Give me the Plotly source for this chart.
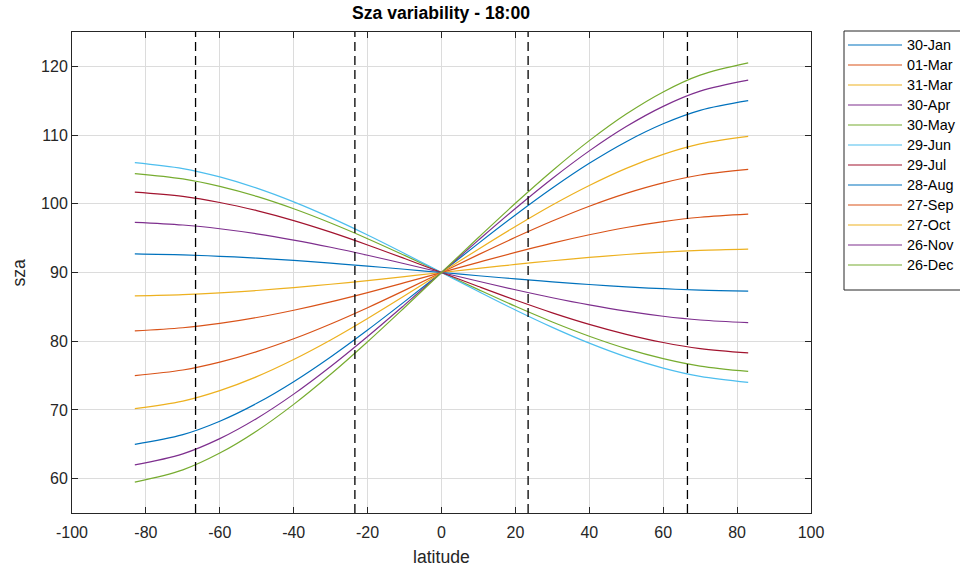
import plotly.graph_objects as go

latitude = [-83, -70, -60, -50, -40, -30, -20, -10, 0, 10, 20, 30, 40, 50, 60, 70, 83]

dates = ["30-Jan", "01-Mar", "31-Mar", "30-Apr", "30-May", "29-Jun",
         "29-Jul", "28-Aug", "27-Sep", "27-Oct", "26-Nov", "26-Dec"]

sza_30jan = [65.0, 66.41, 68.36, 70.96, 74.11, 77.71, 81.63, 85.76, 90.0, 94.24, 98.37, 102.29, 105.89, 109.04, 111.64, 113.59, 115.0]
sza_01mar = [75.0, 75.81, 76.95, 78.48, 80.35, 82.51, 84.88, 87.40, 90.0, 92.60, 95.12, 97.49, 99.65, 101.52, 103.05, 104.19, 105.0]
sza_31mar = [86.6, 86.78, 87.03, 87.38, 87.80, 88.29, 88.83, 89.40, 90.0, 90.60, 91.17, 91.71, 92.20, 92.62, 92.97, 93.22, 93.4]
sza_30apr = [97.3, 96.91, 96.37, 95.63, 94.72, 93.67, 92.51, 91.27, 90.0, 88.73, 87.49, 86.33, 85.28, 84.37, 83.63, 83.09, 82.7]
sza_30may = [104.4, 103.62, 102.53, 101.07, 99.27, 97.20, 94.92, 92.49, 90.0, 87.51, 85.08, 82.80, 80.73, 78.93, 77.47, 76.38, 75.6]
sza_29jun = [106.0, 105.13, 103.91, 102.28, 100.28, 97.98, 95.45, 92.76, 90.0, 87.24, 84.55, 82.02, 79.72, 77.72, 76.09, 74.87, 74.0]
sza_29jul = [101.7, 101.07, 100.19, 99.00, 97.55, 95.87, 94.01, 92.03, 90.0, 87.97, 85.99, 84.13, 82.45, 81.00, 79.81, 78.93, 78.3]
sza_28aug = [92.7, 92.56, 92.36, 92.09, 91.75, 91.36, 90.93, 90.47, 90.0, 89.53, 89.07, 88.64, 88.25, 87.91, 87.64, 87.44, 87.3]
sza_27sep = [81.5, 81.96, 82.59, 83.45, 84.51, 85.73, 87.08, 88.52, 90.0, 91.48, 92.92, 94.27, 95.49, 96.55, 97.41, 98.04, 98.5]
sza_27oct = [70.2, 71.29, 72.81, 74.84, 77.33, 80.17, 83.30, 86.60, 90.0, 93.40, 96.70, 99.83, 102.67, 105.16, 107.19, 108.71, 109.8]
sza_26nov = [62.0, 63.61, 65.82, 68.76, 72.30, 76.32, 80.69, 85.29, 90.0, 94.71, 99.31, 103.68, 107.70, 111.24, 114.18, 116.39, 118.0]
sza_26dec = [59.5, 61.28, 63.72, 66.94, 70.81, 75.19, 79.93, 84.91, 90.0, 95.09, 100.07, 104.81, 109.19, 113.06, 116.28, 118.72, 120.5]

series = [sza_30jan, sza_01mar, sza_31mar, sza_30apr, sza_30may, sza_29jun,
          sza_29jul, sza_28aug, sza_27sep, sza_27oct, sza_26nov, sza_26dec]

reference_lats = [-66.56, -23.44, 23.44, 66.56]

x_ticks = [-100, -80, -60, -40, -20, 0, 20, 40, 60, 80, 100]
x_tick_labels = ["-100", "-80", "-60", "-40", "-20", "0", "20", "40", "60", "80", "100"]
y_ticks = [60, 70, 80, 90, 100, 110, 120]
y_tick_labels = ["60", "70", "80", "90", "100", "110", "120"]

colors = ["#0072BD", "#D95319", "#EDB120", "#7E2F8E", "#77AC30", "#4DBEEE", "#A2142F"]

FONT = "Liberation Sans, Arial, sans-serif"
axis_color = "#262626"
grid_color = "#dcdcdc"

# plot-area geometry (pixels)
W, H = 960, 572
L, R, T, B = 72, 811, 32, 513
PW, PH = R - L, B - T


def px(xp):
    return (xp - L) / PW


def py(yp):
    return (B - yp) / PH


fig = go.Figure()
for i, (name, vals) in enumerate(zip(dates, series)):
    fig.add_trace(go.Scatter(
        x=latitude, y=vals, mode="lines", name=name, showlegend=False,
        line=dict(color=colors[i % len(colors)], width=1.2, shape="spline", smoothing=1.0),
    ))

for lat in reference_lats:
    fig.add_trace(go.Scatter(
        x=[lat, lat], y=[55, 125], mode="lines", showlegend=False, hoverinfo="skip",
        line=dict(color="#000000", width=1.3, dash="9px,5px"),
    ))

# manual MATLAB-style legend
shapes = [dict(type="rect", xref="paper", yref="paper",
               x0=px(844), x1=px(964), y0=py(290), y1=py(31),
               line=dict(color=axis_color, width=1), fillcolor="white", layer="above")]
annotations = []
for i, name in enumerate(dates):
    yy = 45 + 20 * i
    shapes.append(dict(type="line", xref="paper", yref="paper",
                       x0=px(848), x1=px(902), y0=py(yy), y1=py(yy),
                       line=dict(color=colors[i % len(colors)], width=1.2), layer="above"))
    annotations.append(dict(xref="paper", yref="paper", x=px(905), y=py(yy),
                            xanchor="left", yanchor="middle", text=name, showarrow=False,
                            font=dict(family=FONT, size=14.4, color="#000000")))

# axis labels placed like MATLAB
annotations.append(dict(xref="paper", yref="paper", x=px(18), y=py((T + B) / 2),
                        xanchor="center", yanchor="middle", text="sza", textangle=-90,
                        showarrow=False, font=dict(family=FONT, size=17.6, color=axis_color)))
annotations.append(dict(xref="paper", yref="paper", x=px((L + R) / 2), y=py(557),
                        xanchor="center", yanchor="middle", text="latitude",
                        showarrow=False, font=dict(family=FONT, size=17.6, color=axis_color)))

tick_font = dict(family=FONT, size=16, color=axis_color)

fig.update_layout(
    width=W, height=H,
    margin=dict(l=L, r=W - R, t=T, b=H - B, autoexpand=False),
    paper_bgcolor="white", plot_bgcolor="white",
    font=dict(family=FONT, color=axis_color),
    title=dict(text="<b>Sza variability - 18:00</b>", x=441 / W, xanchor="center",
               y=1 - 13 / H, yanchor="middle", yref="container",
               font=dict(family=FONT, size=17.6, color="#000000")),
    xaxis=dict(
        range=[-100, 100], tickvals=x_ticks, ticktext=x_tick_labels,
        showgrid=True, gridcolor=grid_color, gridwidth=1, zeroline=False,
        showline=True, linecolor=axis_color, linewidth=1, mirror="ticks",
        ticks="inside", ticklen=6, tickcolor=axis_color, tickwidth=1,
        tickfont=tick_font, ticklabelstandoff=5,
    ),
    yaxis=dict(
        range=[55, 125], tickvals=y_ticks, ticktext=y_tick_labels,
        showgrid=True, gridcolor=grid_color, gridwidth=1, zeroline=False,
        showline=True, linecolor=axis_color, linewidth=1, mirror="ticks",
        ticks="inside", ticklen=6, tickcolor=axis_color, tickwidth=1,
        tickfont=tick_font,
    ),
    shapes=shapes,
    annotations=annotations,
    showlegend=False,
)

fig.write_html("out.html")
